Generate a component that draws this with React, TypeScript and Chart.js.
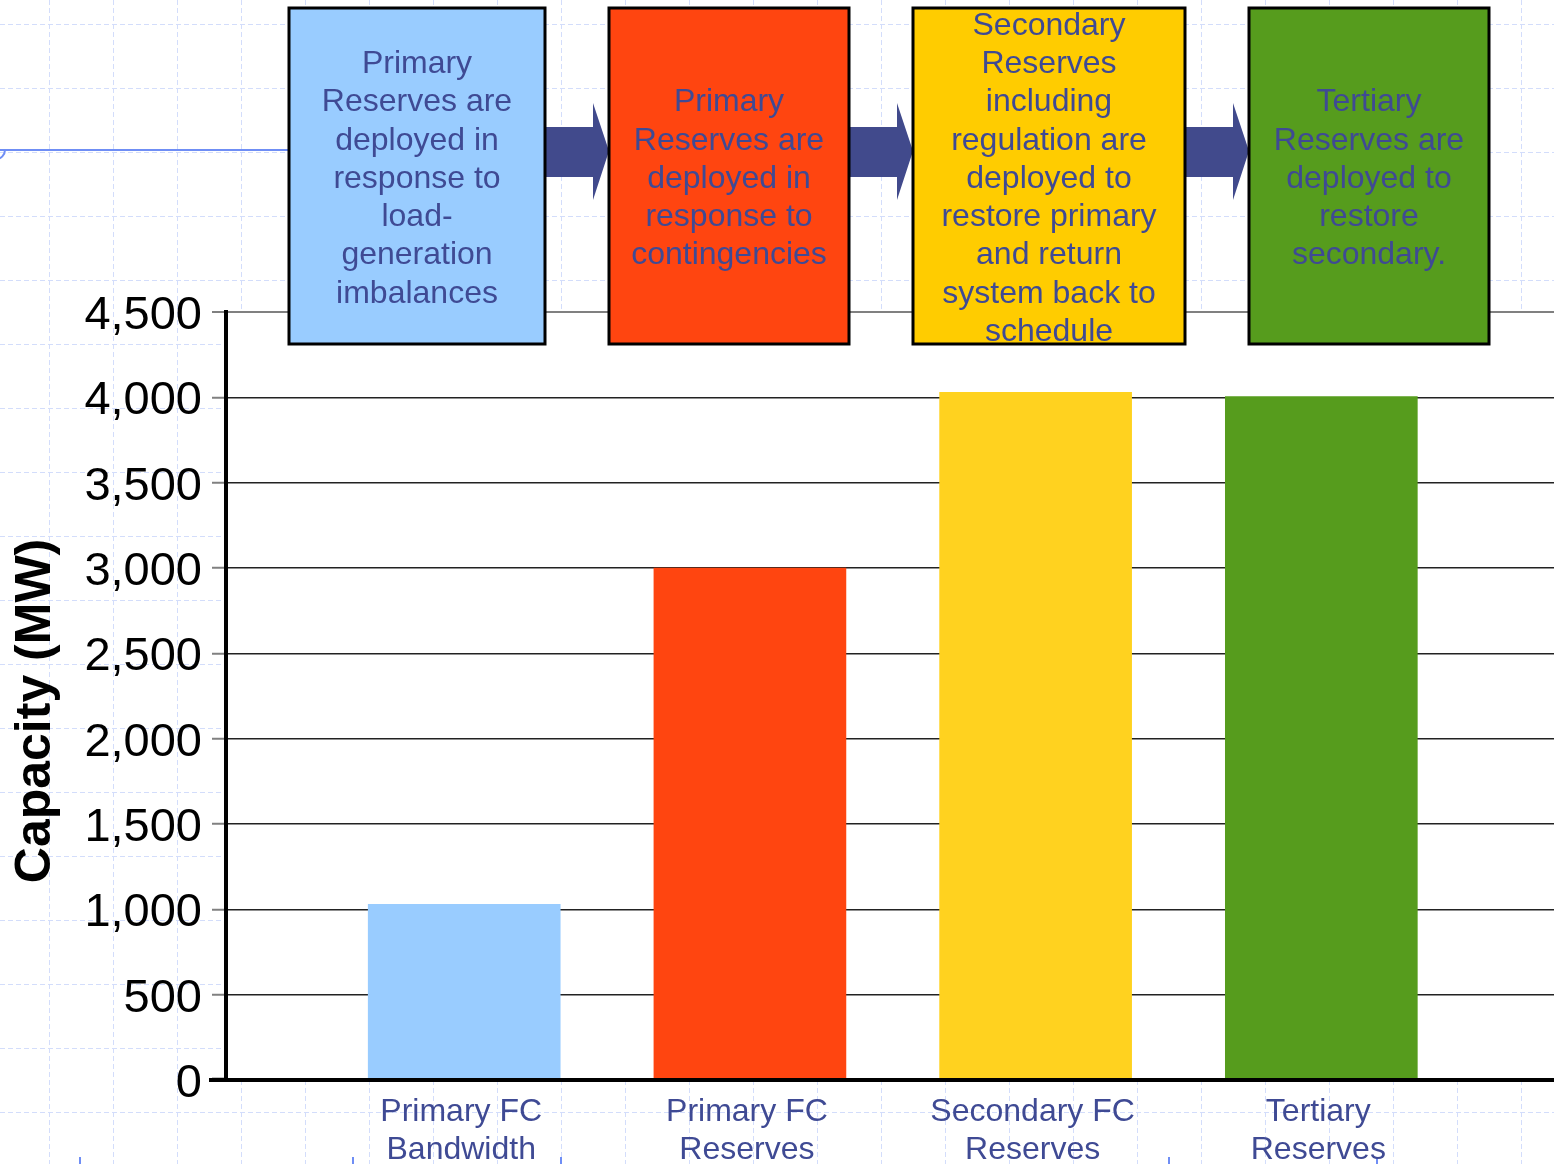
import { useEffect, useRef } from 'react';
import { Chart, registerables } from 'chart.js';

Chart.register(...registerables);

// ---------- data ----------
const categories: string[][] = [
  ['Primary FC', 'Bandwidth'],
  ['Primary FC', 'Reserves'],
  ['Secondary FC', 'Reserves'],
  ['Tertiary', 'Reserves'],
];
const capacityMW = [1030, 3000, 4030, 4005];
const barColors = ['#99ccff', '#ff4510', '#ffd21f', '#569c1d'];
const yMin = 0;
const yMax = 4500;
const yStep = 500;
const yTitle = 'Capacity (MW)';

const boxTexts: string[][] = [
  ['Primary', 'Reserves are', 'deployed in', 'response to', 'load-', 'generation', 'imbalances'],
  ['Primary', 'Reserves are', 'deployed in', 'response to', 'contingencies'],
  ['Secondary', 'Reserves', 'including', 'regulation are', 'deployed to', 'restore primary', 'and return', 'system back to', 'schedule'],
  ['Tertiary', 'Reserves are', 'deployed to', 'restore', 'secondary.'],
];
const boxColors = ['#99ccff', '#ff4510', '#ffcc00', '#569c1d'];

// ---------- layout / style ----------
const FONT = "'Liberation Sans', Arial, sans-serif";
const TEXT_BLUE = '#3f4a94';
const BOX_X: [number, number][] = [
  [289, 545],
  [609, 849],
  [913, 1185],
  [1249, 1489],
];
const BOX_TOP = 8;
const BOX_BOTTOM = 344;
const X_MIN = 0.1662;
const X_MAX = 4.8144;

const decor = {
  id: 'decor',
  beforeDraw(chart: any) {
    const { ctx, width, height, chartArea } = chart;
    ctx.save();
    ctx.fillStyle = '#ffffff';
    ctx.fillRect(0, 0, width, height);
    // background dashed grid
    ctx.strokeStyle = '#d3ddfb';
    ctx.lineWidth = 1;
    ctx.setLineDash([5, 3]);
    for (let x = 49; x < width; x += 64) {
      ctx.beginPath();
      ctx.moveTo(x + 0.5, 0);
      ctx.lineTo(x + 0.5, height);
      ctx.stroke();
    }
    for (let y = 24; y < height; y += 64) {
      ctx.beginPath();
      ctx.moveTo(0, y + 0.5);
      ctx.lineTo(width, y + 0.5);
      ctx.stroke();
    }
    ctx.setLineDash([]);
    // plot area white
    ctx.fillStyle = '#ffffff';
    ctx.fillRect(chartArea.left, chartArea.top, chartArea.right - chartArea.left, chartArea.bottom - chartArea.top);
    // blue connector line at left
    ctx.strokeStyle = '#6f8ef5';
    ctx.lineWidth = 2;
    ctx.beginPath();
    ctx.moveTo(0, 150);
    ctx.lineTo(292, 150);
    ctx.stroke();
    ctx.beginPath();
    ctx.arc(-4, 150, 9, 0, Math.PI / 2);
    ctx.stroke();
    for (const x of [80, 353, 561, 1169, 1377]) {
      ctx.beginPath();
      ctx.moveTo(x, 1157);
      ctx.lineTo(x, 1164);
      ctx.stroke();
    }
    ctx.restore();
  },
  afterDraw(chart: any) {
    const { ctx } = chart;
    ctx.save();
    // x axis extension to the left
    ctx.fillStyle = '#000';
    ctx.fillRect(209, 1078, 17, 4);

    // arrows
    ctx.fillStyle = '#414a8c';
    for (let i = 0; i < BOX_X.length - 1; i++) {
      const a = BOX_X[i][1];
      const b = BOX_X[i + 1][0];
      const h = b - 16;
      ctx.beginPath();
      ctx.moveTo(a, 127);
      ctx.lineTo(h, 127);
      ctx.lineTo(h, 103);
      ctx.lineTo(b, 151);
      ctx.lineTo(h, 200);
      ctx.lineTo(h, 177);
      ctx.lineTo(a, 177);
      ctx.closePath();
      ctx.fill();
    }

    // boxes
    const cy = (BOX_TOP + BOX_BOTTOM) / 2 + 3;
    const lh = 38.3;
    BOX_X.forEach(([x1, x2], i) => {
      ctx.fillStyle = boxColors[i];
      ctx.fillRect(x1, BOX_TOP, x2 - x1, BOX_BOTTOM - BOX_TOP);
      ctx.strokeStyle = '#000';
      ctx.lineWidth = 3;
      ctx.strokeRect(x1, BOX_TOP, x2 - x1, BOX_BOTTOM - BOX_TOP);
      ctx.fillStyle = TEXT_BLUE;
      ctx.font = `32px ${FONT}`;
      ctx.textAlign = 'center';
      ctx.textBaseline = 'middle';
      const lines = boxTexts[i];
      const xc = (x1 + x2) / 2;
      lines.forEach((t, j) => {
        ctx.fillText(t, xc, cy + (j - (lines.length - 1) / 2) * lh);
      });
    });

    // y axis title
    ctx.translate(36, 711);
    ctx.rotate(-Math.PI / 2);
    ctx.fillStyle = '#000';
    ctx.font = `bold 50px ${FONT}`;
    ctx.textAlign = 'center';
    ctx.textBaseline = 'middle';
    ctx.fillText(yTitle, 0, 0);
    ctx.restore();
  },
};

export default function App() {
  const ref = useRef<HTMLCanvasElement>(null);

  useEffect(() => {
    if (!ref.current) return;
    const chart = new Chart(ref.current, {
      type: 'bar',
      data: {
        datasets: [
          {
            data: capacityMW.map((v, i) => ({ x: i + 1, y: v })),
            backgroundColor: barColors,
            borderWidth: 0,
            barThickness: 192,
          } as any,
        ],
      },
      options: {
        responsive: false,
        animation: false,
        devicePixelRatio: 1,
        layout: { padding: { top: 312, left: 0, right: 0, bottom: 0 } },
        plugins: {
          legend: { display: false },
          tooltip: { enabled: false },
          title: { display: false },
        },
        scales: {
          x: {
            type: 'linear',
            min: X_MIN,
            max: X_MAX,
            offset: false,
            grid: { display: false, drawTicks: false },
            border: { display: true, color: '#000', width: 4, z: 1 },
            afterBuildTicks: (s: any) => {
              s.ticks = categories.map((_, i) => ({ value: i + 1 }));
            },
            afterFit: (s: any) => {
              s.height = 84;
            },
            ticks: {
              autoSkip: false,
              maxRotation: 0,
              minRotation: 0,
              padding: 13,
              labelOffset: -3,
              color: TEXT_BLUE,
              font: { family: FONT, size: 32, lineHeight: 1.2 },
              callback: (v: any) => categories[Math.round(Number(v)) - 1] ?? '',
            },
          } as any,
          y: {
            type: 'linear',
            min: yMin,
            max: yMax,
            afterFit: (s: any) => {
              s.width = 226;
            },
            ticks: {
              stepSize: yStep,
              padding: 10,
              labelOffset: 4,
              color: '#000',
              font: { family: FONT, size: 47 },
              callback: (v: any) => Number(v).toLocaleString('en-US'),
            },
            grid: {
              color: (c: any) => (c.tick && c.tick.value === yMax ? '#808080' : '#222222'),
              lineWidth: (c: any) => (c.tick && c.tick.value === yMax ? 2 : 1.5),
              tickLength: 14,
              tickColor: (c: any) => (c.tick && c.tick.value === 0 ? '#000' : '#808080'),
              tickWidth: (c: any) => (c.tick && c.tick.value === 0 ? 4 : 2),
            },
            border: { display: true, color: '#000', width: 4, z: 1 },
          } as any,
        },
      },
      plugins: [decor],
    });
    return () => chart.destroy();
  }, []);

  return (
    <div style={{ position: 'absolute', left: 0, top: 0, width: 1554, height: 1164 }}>
      <canvas ref={ref} width={1554} height={1164} style={{ display: 'block' }} />
    </div>
  );
}
